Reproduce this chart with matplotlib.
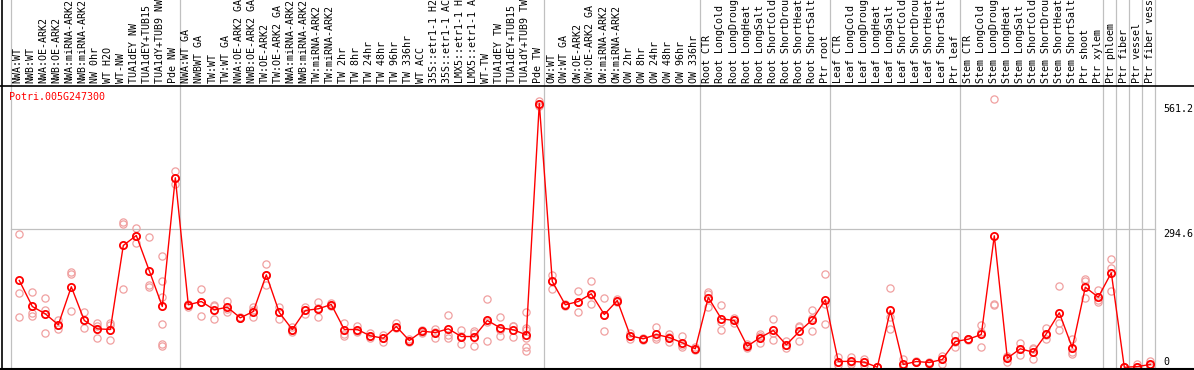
import numpy as np
import matplotlib
matplotlib.use("Agg")
import matplotlib.pyplot as plt
import matplotlib.transforms as mtransforms

# Expression profile for one gene across sample groups

gene = "Potri.005G247300"

labels = [
    "NWA:WT", "NWB:WT", "NWA:OE-ARK2", "NWB:OE-ARK2", "NWA:miRNA-ARK2",
    "NWB:miRNA-ARK2", "NW 0hr", "WT H2O", "WT-NW", "TUA1dEY NW",
    "TUA1dEY+TUB15 NW", "TUA1dY+TUB9 NW", "Pde NW",
    "NWA:WT GA", "NWBWT GA", "TW:WT", "TW:WT GA", "NWA:OE-ARK2 GA",
    "NWB:OE-ARK2 GA", "TW:OE-ARK2", "TW:OE-ARK2 GA", "NWA:miRNA-ARK2",
    "NWB:miRNA-ARK2", "TW:miRNA-ARK2", "TW:miRNA-ARK2", "TW 2hr", "TW 8hr",
    "TW 24hr", "TW 48hr", "TW 96hr", "TW 336hr", "WT ACC",
    "35S::etr1-1 H2O", "35S::etr1-1 ACC", "LMX5::etr1-1 H2O",
    "LMX5::etr1-1 ACC", "WT-TW", "TUA1dEY TW", "TUA1dEY+TUB15 TW",
    "TUA1dY+TUB9 TW", "Pde TW",
    "OW:WT", "OW:WT GA", "OW:OE-ARK2", "OW:OE-ARK2 GA", "OW:miRNA-ARK2",
    "OW:miRNA-ARK2", "OW 2hr", "OW 8hr", "OW 24hr", "OW 48hr", "OW 96hr",
    "OW 336hr",
    "Root CTR", "Root LongCold", "Root LongDrought", "Root LongHeat",
    "Root LongSalt", "Root ShortCold", "Root ShortDrought", "Root ShortHeat",
    "Root ShortSalt", "Ptr root",
    "Leaf CTR", "Leaf LongCold", "Leaf LongDrought", "Leaf LongHeat",
    "Leaf LongSalt", "Leaf ShortCold", "Leaf ShortDrought", "Leaf ShortHeat",
    "Leaf ShortSalt", "Ptr leaf",
    "Stem CTR", "Stem LongCold", "Stem LongDrought", "Stem LongHeat",
    "Stem LongSalt", "Stem ShortCold", "Stem ShortDrought", "Stem ShortHeat",
    "Stem ShortSalt", "Ptr shoot", "Ptr xylem",
    "Ptr phloem", "Ptr fiber", "Ptr vessel", "Ptr fiber vessel",
]

means = [
    184.7, 129.4, 113.8, 90.4, 171.3, 99.6, 81.9, 80.4, 259.2, 280.4, 205.3, 129.4, 403.2,
    133.0, 140.0, 122.3, 127.9, 105.3, 118.7, 196.8, 116.6, 80.4, 120.9, 124.5, 133.6,
    80.4, 80.4, 67.0, 61.9, 86.8, 57.0, 76.8, 74.0, 81.9, 65.5, 65.5, 99.6, 84.0, 79.8,
    69.1, 561.2,
    182.6, 133.0, 140.0, 156.4, 112.3, 142.1, 67.0, 60.6, 69.8, 63.4, 52.1, 39.4,
    148.5, 103.2, 99.6, 44.9, 63.4, 78.3, 47.9, 76.2, 101.1, 143.6,
    12.3, 12.8, 10.9, 0.2, 120.9, 6.0, 12.3, 10.2, 16.6, 54.9,
    59.8, 69.8, 279.8, 19.4, 39.4, 32.1, 71.3, 116.0, 41.5, 170.4, 149.2,
    201.1, 0.0, 1.5, 6.0,
]

replicates = [
    [284, 158, 107], [161, 115, 110], [148, 121, 74], [100, 90, 81],
    [202, 198, 119], [117, 100, 83], [95, 87, 63], [95, 90, 59],
    [310, 304, 167], [297, 280, 264], [278, 175, 170],
    [236, 183, 149, 93, 50, 46], [417, 403, 390],
    [135, 129, 133], [167, 110, 140], [131, 103, 132], [142, 117, 125],
    [108, 104, 105], [129, 106, 121], [219, 176, 197], [128, 103, 117],
    [85, 76, 80], [128, 114, 121], [140, 107, 127], [137, 131, 132],
    [95, 71, 67], [87, 78, 75], [73, 66, 63], [69, 53, 63], [95, 85, 84],
    [61, 56, 53], [80, 75, 73], [81, 63, 76], [112, 68, 63], [80, 50, 67],
    [78, 45, 73], [146, 57, 97], [107, 66, 79], [87, 64, 87],
    [117, 83, 79, 63, 43, 34], [566, 557, 561],
    [197, 167, 184], [130, 135, 133], [163, 118, 138], [183, 134, 153],
    [148, 78, 111], [145, 140, 141], [74, 61, 66], [62, 59, 61],
    [85, 61, 64], [71, 53, 65], [66, 43, 47], [44, 36, 38],
    [160, 129, 156], [133, 80, 97], [95, 100, 104], [41, 50, 44],
    [71, 52, 67], [103, 59, 73], [55, 41, 48], [87, 56, 85],
    [121, 78, 104], [199, 135, 93],
    [22, 4, 12], [22, 6, 11], [18, 4, 11], [0, 0, 1], [169, 107, 82],
    [18, 0, 0], [14, 11, 12], [8, 12, 10], [25, 7, 18], [68, 44, 53],
    [61, 58, 60], [89, 44, 76], [571, 135, 132], [25, 11, 22],
    [52, 27, 39], [41, 18, 38], [84, 61, 69], [173, 94, 80],
    [61, 32, 29], [188, 183, 148], [165, 139, 144],
    [231, 211, 163], [0, 0, 0], [6, 0, 0], [13, 5, 0],
]

# number of samples before each group separator
group_breaks = [0, 13, 41, 53, 63, 73, 84, 85, 86, 87, 88]
axis_marks = [561.2, 294.6]

W, H = 1194, 370
fig = plt.figure(figsize=(W / 100, H / 100), dpi=100)
ax = fig.add_axes([0, 0, 1, 1])
ax.set_axis_off()

# pixel mapping: sample i at x = 19.3 + 13 i ; value v at y = 367.3 - 0.47 v
x0, dx = 19.3, 13.0
y0, dy = 367.3, 0.47
ax.set_xlim(-x0 / dx, (W - x0) / dx)
ax.set_ylim((y0 - H) / dy, y0 / dy)


def py(p):
    return (y0 - p) / dy


def px(p):
    return (p - x0) / dx


mono = "DejaVu Sans Mono"
grey = "#c0c0c0"

# separators and grid
seps = [k - 0.67 for k in group_breaks]
for s in seps:
    ax.plot([s, s], [py(0), py(369)], color=grey, lw=0.9, zorder=1)
ax.plot([seps[0], seps[-1]], [axis_marks[1]] * 2, color=grey, lw=0.9, zorder=1)

# frame lines
ax.plot([px(0), px(W)], [py(86), py(86)], color="black", lw=1.2, zorder=5)
ax.plot([px(0), px(W)], [py(369), py(369)], color="black", lw=1.5, zorder=5)
ax.plot([px(1.5), px(1.5)], [py(0), py(370)], color="black", lw=1.2, zorder=5)

# replicates
for i, reps in enumerate(replicates):
    ax.plot([i] * len(reps), reps, linestyle="none", marker="o", ms=5.2,
            mfc="none", mec="#f0a0a0", mew=0.9, zorder=2)

# means
idx = np.arange(len(means))
ax.plot(idx, means, color="red", lw=1.0, zorder=3)
ax.plot(idx, means, linestyle="none", marker="o", ms=5.2, mfc="none",
        mec="red", mew=1.3, zorder=4)

# sample labels, rotated, above plot
trans = mtransforms.blended_transform_factory(ax.transData, fig.transFigure)
for i, lab in enumerate(labels):
    ax.text(i * 1.002 - 0.17, (H - 83) / H, lab, rotation=90, ha="center",
            va="bottom", family=mono, fontsize=7.2, transform=trans)

ax.text(px(9.3), py(97.5), gene, color="red", family=mono, fontsize=7.2,
        ha="left", va="center")

for v in axis_marks:
    ax.text(px(1163), v, f"{v}", family=mono, fontsize=7.2, ha="left", va="top")
ax.text(px(1163), 0, "0", family=mono, fontsize=7.2, ha="left", va="bottom")

fig.savefig("out.png", dpi=100)
